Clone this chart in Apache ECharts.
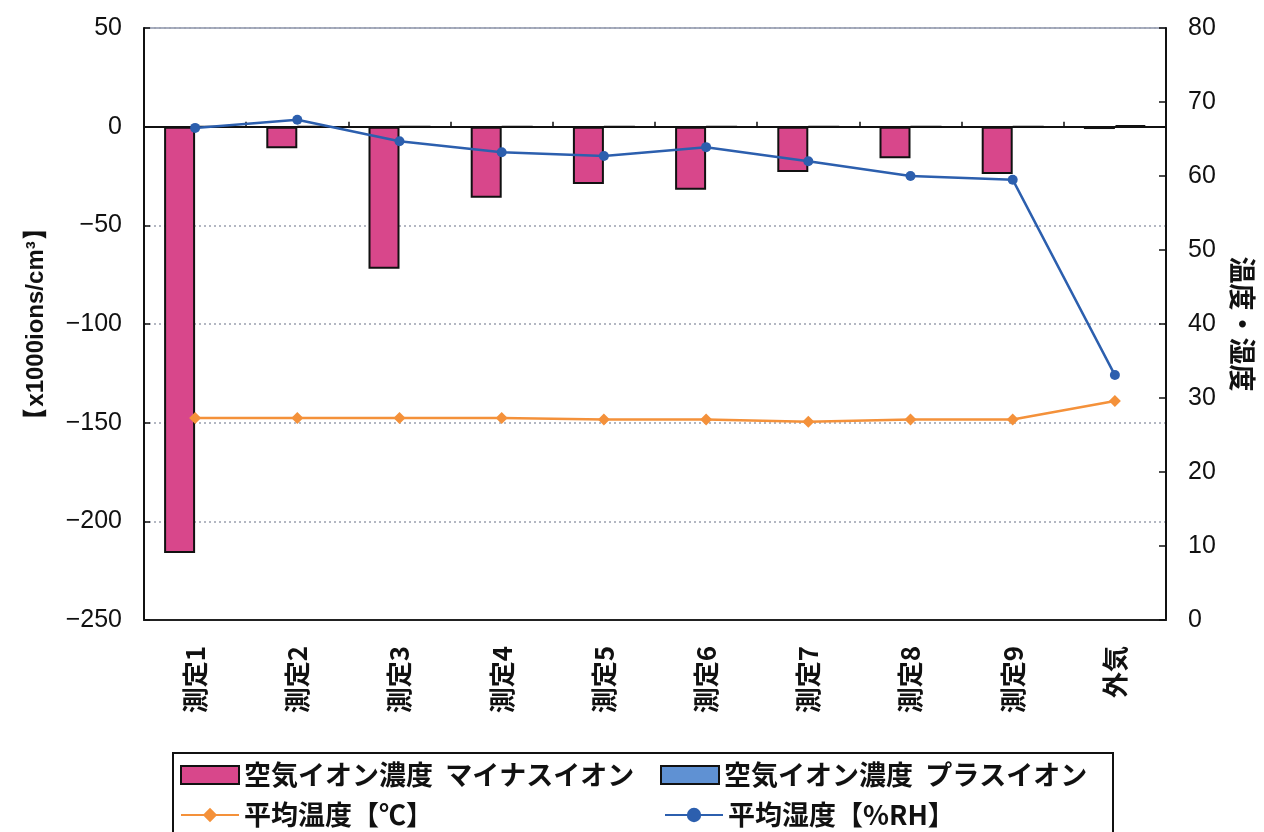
<!DOCTYPE html>
<html>
<head>
<meta charset="utf-8">
<style>
  html, body { margin: 0; padding: 0; background: #ffffff; }
  #chart { width: 1264px; height: 832px; }
</style>
<script src="https://cdn.jsdelivr.net/npm/echarts@6/dist/echarts.min.js"></script>
</head>
<body>
<div id="chart"></div>
<script>
// Measurement points
const categories = ['測定1', '測定2', '測定3', '測定4', '測定5', '測定6', '測定7', '測定8', '測定9', '外気'];

// Air ion concentration [x1000 ions/cm3]
const minusIons = [-216, -11, -72, -36, -29, -32, -23, -16, -24, -1.2];
const plusIons = [0, 0, 0, 0, 0, 0, 0, 0, 0, 0.6];

// Average temperature [°C] and humidity [%RH] (right axis)
const avgTemp = [27.3, 27.3, 27.3, 27.3, 27.1, 27.1, 26.8, 27.1, 27.1, 29.6];
const avgHumidity = [66.5, 67.6, 64.7, 63.2, 62.7, 63.9, 62.0, 60.0, 59.5, 33.1];

// Axis ranges
const leftAxisRange = { min: -250, max: 50, interval: 50 };
const rightAxisRange = { min: 0, max: 80, interval: 10 };

const nameMinus = '空気イオン濃度  マイナスイオン';
const namePlus = '空気イオン濃度  プラスイオン';
const nameTemp = '平均温度【℃】';
const nameHum = '平均湿度【%RH】';

const jp = "'Noto Sans CJK JP', 'Noto Sans', sans-serif";
const num = "'Liberation Sans', Arial, sans-serif";

const chart = echarts.init(document.getElementById('chart'));

const legendText = { fontFamily: jp, fontSize: 27, fontWeight: 'bold', color: '#111', lineHeight: 30 };

// one legend block per entry, laid out as a 2 x 2 table
function legendEntry(name, left, top, isBar) {
  return {
    left: left, top: top, padding: 0,
    itemWidth: 58, itemHeight: 18,
    textStyle: legendText,
    data: [isBar ? { name: name, icon: 'rect' } : { name: name }]
  };
}

chart.setOption({
  backgroundColor: '#ffffff',
  animation: false,
  grid: {
    left: 144, right: 91, top: 28, bottom: 212,
    show: true, borderColor: '#8a93aa', borderWidth: 1.5, backgroundColor: 'transparent'
  },
  legend: [
    legendEntry(nameMinus, 180, 760, true),
    legendEntry(namePlus, 660, 760, true),
    legendEntry(nameTemp, 180, 800, false),
    legendEntry(nameHum, 664, 800, false)
  ],
  graphic: [
    {
      type: 'rect', left: 172, top: 752, z: -1,
      shape: { width: 940, height: 110 },
      style: { fill: 'transparent', stroke: '#111', lineWidth: 2 }
    }
  ],
  xAxis: [
    {
      type: 'category', data: categories, position: 'bottom',
      axisLine: { onZero: false, lineStyle: { color: '#222', width: 2 } },
      axisTick: { show: false },
      axisLabel: {
        rotate: 90, margin: 26, fontFamily: jp, fontSize: 26, fontWeight: 'bold', color: '#111'
      },
      splitLine: { show: false }
    },
    {
      // zero line of the ion axis, with category boundary ticks
      type: 'category', data: categories, position: 'top',
      axisLine: { onZero: true, onZeroAxisIndex: 0, lineStyle: { color: '#111', width: 2 } },
      axisTick: { show: true, inside: false, length: 5, lineStyle: { color: '#111', width: 1.5 } },
      axisLabel: { show: false },
      splitLine: { show: false }
    }
  ],
  yAxis: [
    {
      type: 'value', position: 'left',
      min: leftAxisRange.min, max: leftAxisRange.max, interval: leftAxisRange.interval,
      name: '【x1000ions/cm³】', nameLocation: 'middle', nameRotate: 90, nameGap: 96,
      nameTextStyle: { fontFamily: num, fontSize: 24, fontWeight: 'bold', color: '#111' },
      axisLine: { show: true, lineStyle: { color: '#111', width: 2 } },
      axisTick: { show: true, inside: true, length: 6, lineStyle: { color: '#111', width: 1.5 } },
      axisLabel: {
        margin: 22, fontFamily: num, fontSize: 25, color: '#111',
        formatter: v => (v < 0 ? '\u2212' + Math.abs(v) : String(v))
      },
      splitLine: { show: true, lineStyle: { color: '#9aa0ae', type: [2, 3], width: 1.5 } }
    },
    {
      type: 'value', position: 'right',
      min: rightAxisRange.min, max: rightAxisRange.max, interval: rightAxisRange.interval,
      name: '温度・湿度', nameLocation: 'middle', nameRotate: -90, nameGap: 63,
      nameTextStyle: { fontFamily: jp, fontSize: 27, fontWeight: 'bold', color: '#111' },
      axisLine: { show: true, lineStyle: { color: '#111', width: 2 } },
      axisTick: { show: true, inside: true, length: 7, lineStyle: { color: '#111', width: 1.5 } },
      axisLabel: { margin: 22, fontFamily: num, fontSize: 25, color: '#111' },
      splitLine: { show: false }
    }
  ],
  series: [
    {
      name: nameMinus, type: 'bar', xAxisIndex: 0, yAxisIndex: 0,
      data: minusIons, barWidth: 31, barGap: '0%',
      itemStyle: { color: '#d8478b', borderColor: '#111', borderWidth: 2 }
    },
    {
      name: namePlus, type: 'bar', xAxisIndex: 0, yAxisIndex: 0,
      data: plusIons, barWidth: 31, barGap: '0%',
      itemStyle: { color: '#5f91d3', borderColor: '#111', borderWidth: 2 }
    },
    {
      name: nameTemp, type: 'line', xAxisIndex: 0, yAxisIndex: 1,
      data: avgTemp, symbol: 'diamond', symbolSize: 12,
      lineStyle: { color: '#f4913a', width: 2.5 },
      itemStyle: { color: '#f4913a' }, z: 5
    },
    {
      name: nameHum, type: 'line', xAxisIndex: 0, yAxisIndex: 1,
      data: avgHumidity, symbol: 'circle', symbolSize: 10,
      lineStyle: { color: '#2c5fae', width: 2.5 },
      itemStyle: { color: '#2c5fae' }, z: 6
    }
  ]
});
</script>
</body>
</html>
